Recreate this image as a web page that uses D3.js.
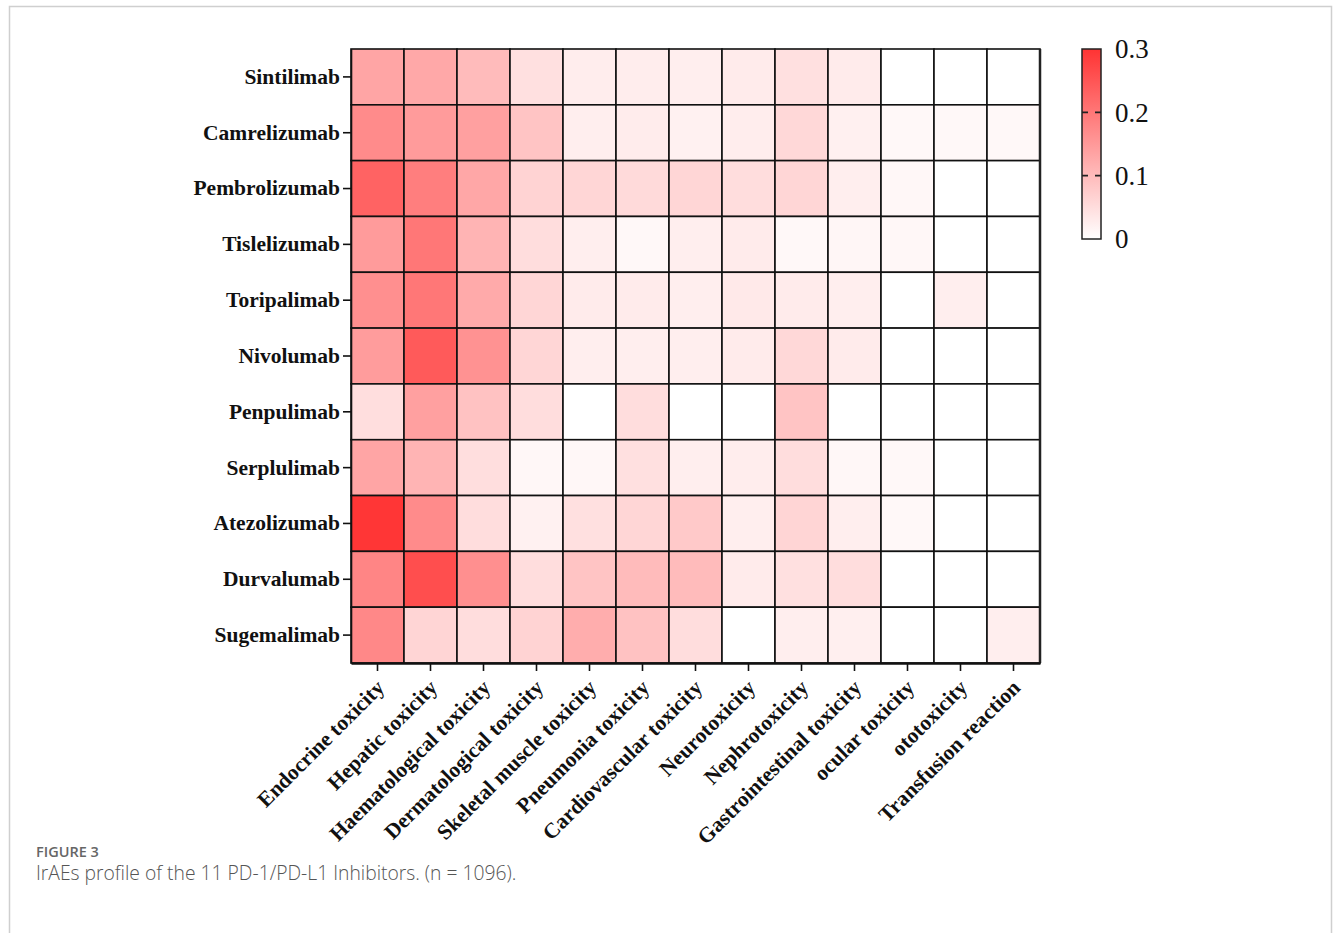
<!DOCTYPE html>
<html><head><meta charset="utf-8">
<script src="https://cdn.jsdelivr.net/npm/d3@7"></script>
<style>
html,body{margin:0;padding:0;background:#fff;}
svg{display:block;}
</style></head>
<body>
<svg id="chart" width="1333" height="933"></svg>
<script>
const drugs = ["Sintilimab","Camrelizumab","Pembrolizumab","Tislelizumab","Toripalimab","Nivolumab","Penpulimab","Serplulimab","Atezolizumab","Durvalumab","Sugemalimab"];
const toxicities = ["Endocrine toxicity","Hepatic toxicity","Haematological toxicity","Dermatological toxicity","Skeletal muscle toxicity","Pneumonia toxicity","Cardiovascular toxicity","Neurotoxicity","Nephrotoxicity","Gastrointestinal toxicity","ocular toxicity","ototoxicity","Transfusion reaction"];
const sintilimab    = [0.132,0.128,0.100,0.046,0.026,0.026,0.025,0.030,0.045,0.030,0.000,0.000,0.000];
const camrelizumab  = [0.170,0.147,0.140,0.087,0.025,0.028,0.020,0.026,0.057,0.022,0.010,0.010,0.010];
const pembrolizumab = [0.230,0.190,0.130,0.065,0.060,0.055,0.060,0.050,0.060,0.025,0.012,0.000,0.000];
const tislelizumab  = [0.147,0.200,0.110,0.050,0.025,0.010,0.025,0.030,0.010,0.013,0.012,0.000,0.000];
const toripalimab   = [0.165,0.200,0.125,0.060,0.030,0.030,0.025,0.032,0.030,0.025,0.000,0.025,0.000];
const nivolumab     = [0.145,0.243,0.160,0.060,0.025,0.025,0.025,0.030,0.057,0.030,0.000,0.000,0.000];
const penpulimab    = [0.048,0.140,0.090,0.050,0.000,0.050,0.000,0.000,0.087,0.000,0.000,0.000,0.000];
const serplulimab   = [0.132,0.110,0.048,0.012,0.012,0.045,0.025,0.026,0.050,0.012,0.010,0.000,0.000];
const atezolizumab  = [0.295,0.170,0.050,0.020,0.045,0.060,0.080,0.025,0.062,0.025,0.010,0.000,0.000];
const durvalumab    = [0.180,0.260,0.165,0.050,0.087,0.100,0.100,0.030,0.045,0.050,0.000,0.000,0.000];
const sugemalimab   = [0.175,0.062,0.050,0.065,0.120,0.090,0.050,0.000,0.025,0.023,0.000,0.000,0.025];
const seriesRows = [sintilimab,camrelizumab,pembrolizumab,tislelizumab,toripalimab,nivolumab,penpulimab,serplulimab,atezolizumab,durvalumab,sugemalimab];
const legendTicks = [0,0.1,0.2,0.3];
const legendLabels = ["0","0.1","0.2","0.3"];

const svg = d3.select("#chart");

// outer frame (figure border)
svg.append("path")
  .attr("d","M9.5,940 V6.5 H1331.5 V940")
  .attr("fill","none").attr("stroke","#cfcfcf").attr("stroke-width",1.5);

const pLeft = 351, pTop = 49, pRight = 1040, pBottom = 663;
const x = d3.scaleBand().domain(toxicities).range([pLeft,pRight]);
const y = d3.scaleBand().domain(drugs).range([pTop,pBottom]);
const color = d3.scaleLinear().domain([0,0.3]).range(["#ffffff","#ff3333"]).clamp(true);

const cells = [];
seriesRows.forEach((row,i)=>row.forEach((v,j)=>cells.push({drug:drugs[i],tox:toxicities[j],v})));

svg.append("g").selectAll("rect").data(cells).join("rect")
  .attr("x",d=>x(d.tox)).attr("y",d=>y(d.drug))
  .attr("width",x.bandwidth()).attr("height",y.bandwidth())
  .attr("fill",d=>color(d.v))
  .attr("stroke","#111").attr("stroke-width",1.6);

// thicker right frame
svg.append("path")
  .attr("d",`M${pRight},${pTop} V${pBottom}`)
  .attr("stroke","#222").attr("stroke-width",2.5).attr("fill","none");

const labelFont = "'Liberation Serif','Times New Roman',serif";

// Y axis
const yAxis = svg.append("g").attr("transform",`translate(${pLeft},0)`)
  .call(d3.axisLeft(y).tickSize(8).tickSizeOuter(0).tickPadding(3));
yAxis.select(".domain").attr("stroke","#111").attr("stroke-width",1.6);
yAxis.selectAll(".tick line").attr("stroke","#111").attr("stroke-width",1.6);
yAxis.selectAll(".tick text")
  .attr("font-family",labelFont)
  .attr("font-weight","bold").attr("font-size",21.5).attr("fill","#111");

// X axis
const xAxis = svg.append("g").attr("transform",`translate(0,${pBottom})`)
  .call(d3.axisBottom(x).tickSize(8).tickSizeOuter(0).tickPadding(3));
xAxis.select(".domain").attr("stroke","#111").attr("stroke-width",2.5);
xAxis.selectAll(".tick line").attr("stroke","#111").attr("stroke-width",1.6);
xAxis.selectAll(".tick text")
  .attr("font-family",labelFont)
  .attr("font-weight","bold").attr("font-size",21.5).attr("fill","#111")
  .attr("text-anchor","end")
  .attr("dy",null).attr("y",0)
  .attr("transform","translate(8,26) rotate(-45)");

// Color legend
const lx = 1082, lw = 19, ly0 = 49, ly1 = 239;
const ls = d3.scaleLinear().domain([0,0.3]).range([ly1,ly0]);
const defs = svg.append("defs");
const grad = defs.append("linearGradient").attr("id","lg").attr("x1",0).attr("y1",1).attr("x2",0).attr("y2",0);
grad.append("stop").attr("offset",0).attr("stop-color",color(0));
grad.append("stop").attr("offset",1).attr("stop-color",color(0.3));
svg.append("rect").attr("x",lx).attr("y",ly0).attr("width",lw).attr("height",ly1-ly0)
  .attr("fill","url(#lg)").attr("stroke","#222").attr("stroke-width",1.5);
svg.append("g").selectAll("line").data(legendTicks.filter(t=>t>0&&t<0.3)).join("line")
  .attr("x1",lx).attr("x2",lx+lw).attr("y1",d=>ls(d)).attr("y2",d=>ls(d))
  .attr("stroke","#222").attr("stroke-width",1.6).attr("stroke-dasharray","6,7");
svg.append("g").selectAll("text").data(legendTicks).join("text")
  .attr("x",lx+lw+14).attr("y",d=>ls(d)).attr("dy","0.35em")
  .attr("font-family",labelFont)
  .attr("font-size",27).attr("fill","#111")
  .text((d,i)=>legendLabels[i]);

// Caption
svg.append("text").attr("x",36).attr("y",857)
  .attr("font-family","'Open Sans',sans-serif").attr("font-size",14.5).attr("font-weight",600)
  .attr("fill","#666").text("FIGURE 3");
svg.append("text").attr("x",36).attr("y",880)
  .attr("font-family","'Open Sans',sans-serif").attr("font-size",19.3).attr("font-weight",300)
  .attr("fill","#555").text("IrAEs profile of the 11 PD-1/PD-L1 Inhibitors. (n = 1096).");
</script>
</body></html>
